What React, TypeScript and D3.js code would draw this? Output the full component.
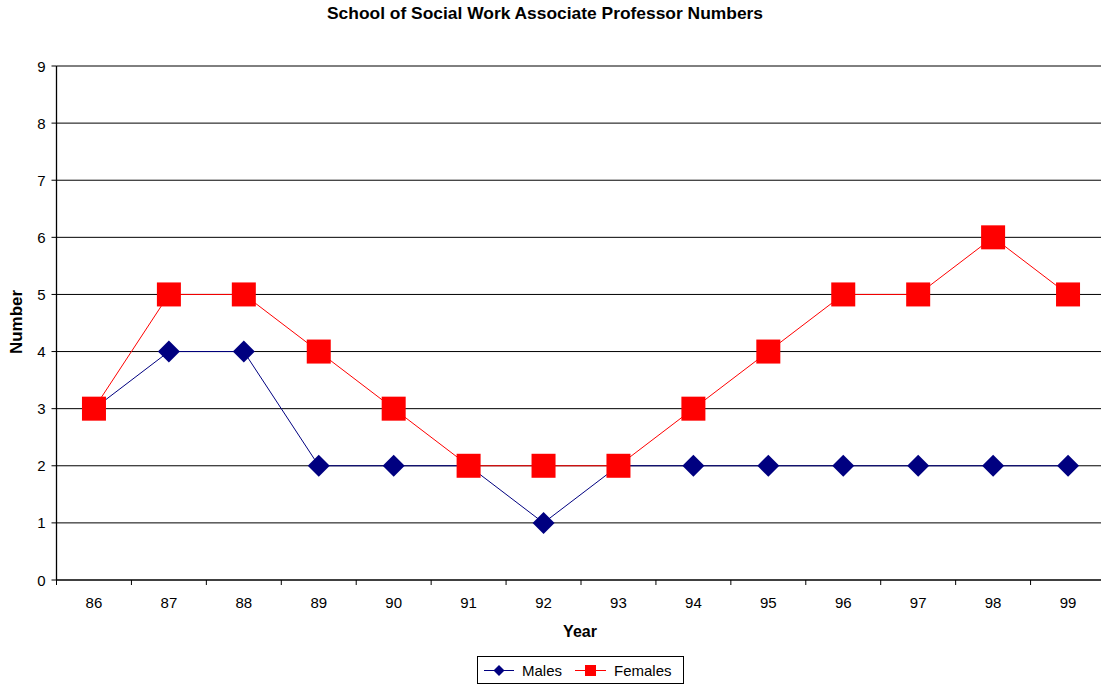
import React from "react";
import * as d3 from "d3";

const years = ["86", "87", "88", "89", "90", "91", "92", "93", "94", "95", "96", "97", "98", "99"];
const males = [3, 4, 4, 2, 2, 2, 1, 2, 2, 2, 2, 2, 2, 2];
const females = [3, 5, 5, 4, 3, 2, 2, 2, 3, 4, 5, 5, 6, 5];
const yTicks = [0, 1, 2, 3, 4, 5, 6, 7, 8, 9];

const W = 1101;
const H = 685;
const left = 56.5;
const right = 1105.5;
const top = 66;
const bottom = 580;
const font = "'Liberation Sans', Arial, sans-serif";

export default function App() {
  const x = d3.scaleBand<string>().domain(years).range([left, right]);
  const y = d3.scaleLinear().domain([0, 9]).range([bottom, top]);
  const cx = (d: string) => (x(d) as number) + x.bandwidth() / 2;
  const line = d3
    .line<number>()
    .x((_, i) => cx(years[i]))
    .y((v) => y(v));
  const diamond = (px: number, py: number, r: number) =>
    `M${px},${py - r}L${px + r},${py}L${px},${py + r}L${px - r},${py}Z`;

  return (
    <svg width={W} height={H} style={{ position: "absolute", left: 0, top: 0 }} fontFamily={font}>
      <rect x={0} y={0} width={W} height={H} fill="#fff" />
      <text x={545} y={19} textAnchor="middle" fontSize={17} fontWeight="bold" textLength={436} lengthAdjust="spacingAndGlyphs">
        School of Social Work Associate Professor Numbers
      </text>
      {yTicks.map((t) => (
        <g key={t}>
          {t > 0 && <line x1={left} x2={right} y1={y(t)} y2={y(t)} stroke="#000" strokeWidth={1} />}
          <line x1={left - 5} x2={left} y1={y(t)} y2={y(t)} stroke="#000" />
          <text x={left - 11} y={y(t) + 5.5} textAnchor="end" fontSize={15}>
            {t}
          </text>
        </g>
      ))}
      <line x1={left} x2={left} y1={top} y2={bottom} stroke="#000" strokeWidth={1.3} />
      <line x1={left} x2={right} y1={bottom} y2={bottom} stroke="#000" strokeWidth={1.3} />
      {years.map((yr) => (
        <g key={yr}>
          <line x1={x(yr) as number} x2={x(yr) as number} y1={bottom} y2={bottom + 5} stroke="#000" />
          <text x={cx(yr)} y={bottom + 28} textAnchor="middle" fontSize={15}>
            {yr}
          </text>
        </g>
      ))}
      <text x={580} y={637} textAnchor="middle" fontSize={16} fontWeight="bold">
        Year
      </text>
      <text
        transform={`translate(22,322) rotate(-90)`}
        textAnchor="middle"
        fontSize={16}
        fontWeight="bold"
        textLength={64}
        lengthAdjust="spacingAndGlyphs"
      >
        Number
      </text>
      <path d={line(males) as string} fill="none" stroke="#000080" strokeWidth={1} />
      {males.map((v, i) => (
        <path key={i} d={diamond(cx(years[i]), y(v), 11)} fill="#000080" />
      ))}
      <path d={line(females) as string} fill="none" stroke="#ff0000" strokeWidth={1} />
      {females.map((v, i) => (
        <rect key={i} x={cx(years[i]) - 12} y={y(v) - 12} width={24} height={24} fill="#ff0000" />
      ))}
      <g>
        <rect x={477.5} y={656.5} width={206} height={27} fill="#fff" stroke="#000" strokeWidth={1} />
        <line x1={484} x2={514} y1={670.5} y2={670.5} stroke="#000080" />
        <path d={diamond(499, 670.5, 5.5)} fill="#000080" />
        <text x={522} y={676} fontSize={15}>
          Males
        </text>
        <line x1={575} x2={606} y1={670.5} y2={670.5} stroke="#ff0000" />
        <rect x={585} y={665} width={11} height={11} fill="#ff0000" />
        <text x={614} y={676} fontSize={15}>
          Females
        </text>
      </g>
    </svg>
  );
}
